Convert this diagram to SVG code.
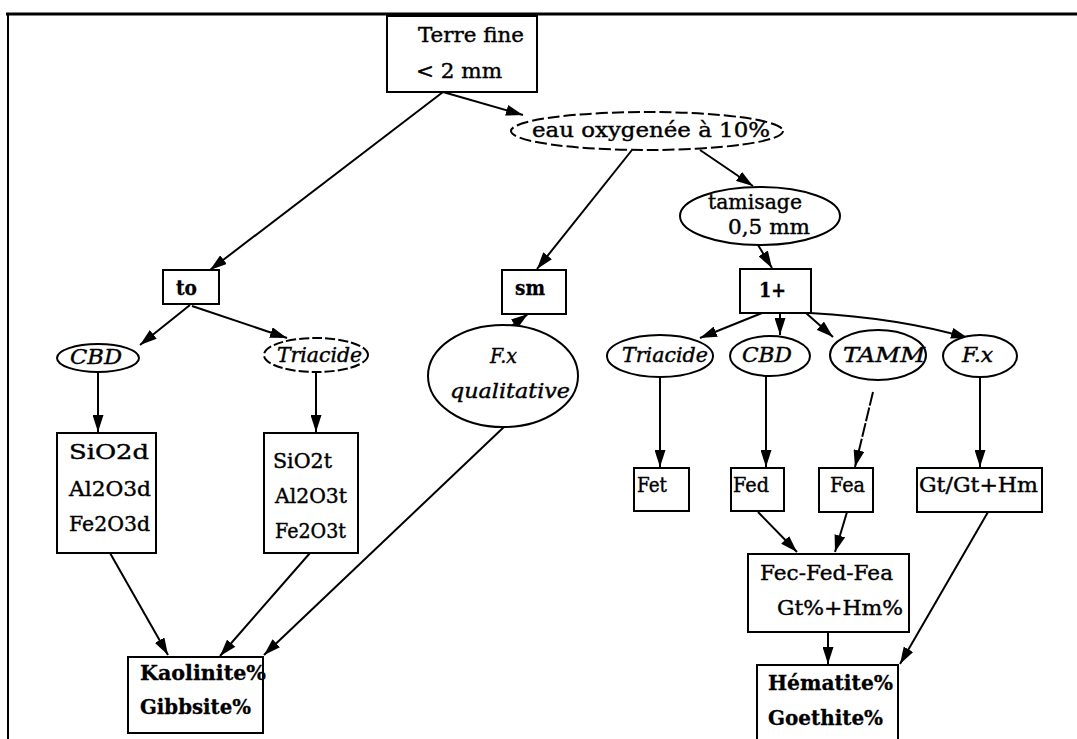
<svg xmlns="http://www.w3.org/2000/svg" width="1077" height="739" viewBox="0 0 1077 739">
<style>
.n{fill:#fff;stroke:#000;stroke-width:2}
.d{stroke-dasharray:10 3}
.t{font-family:"DejaVu Serif","Liberation Serif",serif;font-size:20px;fill:#000;stroke:#000;stroke-width:0.4}
.b{font-weight:bold;stroke-width:0.3}
.i{font-style:italic}
.e{stroke:#000;stroke-width:2;fill:none;marker-end:url(#ah)}
</style>
<defs>
<marker id="ah" markerUnits="userSpaceOnUse" markerWidth="17" markerHeight="11" refX="17" refY="5.5" orient="auto">
<path d="M0,0 L17,5.5 L0,11 z" fill="#000"/>
</marker>
</defs>
<rect width="1077" height="739" fill="#fff"/>
<g id="frame" stroke="#000" fill="none">
<line x1="6" y1="14" x2="1077" y2="14" stroke-width="3"/>
<line x1="8" y1="14" x2="8" y2="739" stroke-width="2"/>
</g>
<g id="connectors">
<path class="e" d="M443,92 L523,115"/>
<path class="e" d="M443,92 L210,270"/>
<path class="e" d="M700,150 L753,186"/>
<path class="e" d="M632,150 L537,269"/>
<path class="e" d="M758,245 L772,268"/>
<path class="e" d="M190,305 L140,345"/>
<path class="e" d="M192,306 L287,338"/>
<path class="e" d="M98,372 L98,432"/>
<path class="e" d="M316,373 L316,432"/>
<path class="e" d="M110,553 L168,655"/>
<path class="e" d="M310,553 L220,656"/>
<path class="e" d="M505,426 L264,655"/>
<path class="e" d="M510,327 L528,314"/>
<ellipse cx="545" cy="312" rx="5" ry="3" fill="#000"/>
<path class="e" d="M762,313 L700,338"/>
<path class="e" d="M780,313 L780,335"/>
<path class="e" d="M806,313 L833,337"/>
<path class="e" d="M810,313 Q900,318 968,338"/>
<path class="e" d="M660,377 L660,467"/>
<path class="e" d="M766,377 L766,467"/>
<path class="e" d="M873,392 L855,467" stroke-dasharray="14 2"/>
<path class="e" d="M980,377 L980,467"/>
<path class="e" d="M758,512 L797,552"/>
<path class="e" d="M847,512 L835,552"/>
<path class="e" d="M828,632 L828,664"/>
<path class="e" d="M988,512 L900,664"/>
</g>
<g id="terre"><rect class="n" x="387" y="16" width="150" height="76"/>
<text class="t" x="418" y="42" textLength="106" lengthAdjust="spacingAndGlyphs">Terre fine</text>
<text class="t" x="416" y="78" textLength="86" lengthAdjust="spacingAndGlyphs">&lt; 2 mm</text></g>
<g id="eau"><ellipse class="n" cx="647" cy="131" rx="136" ry="19" stroke-dasharray="12 4"/>
<text class="t" x="532" y="137" textLength="238" lengthAdjust="spacingAndGlyphs">eau oxygenée à 10%</text></g>
<g id="tamisage"><ellipse class="n" cx="760" cy="216" rx="80" ry="29"/>
<text class="t" x="708" y="209" textLength="94" lengthAdjust="spacingAndGlyphs">tamisage</text>
<text class="t" x="728" y="234" textLength="82" lengthAdjust="spacingAndGlyphs">0,5 mm</text></g>
<g id="to"><rect class="n" x="163" y="270" width="56" height="34"/>
<text class="t b" x="176" y="295" textLength="21" lengthAdjust="spacingAndGlyphs">to</text></g>
<g id="sm"><rect class="n" x="502" y="270" width="64" height="44"/>
<text class="t b" x="515" y="295" textLength="30" lengthAdjust="spacingAndGlyphs">sm</text></g>
<g id="lplus"><rect class="n" x="740" y="269" width="71" height="44"/>
<text class="t b" x="759" y="297" textLength="27" lengthAdjust="spacingAndGlyphs">1+</text></g>
<g id="cbd1"><ellipse class="n" cx="98" cy="358" rx="41" ry="14"/>
<text class="t i" x="70" y="364" textLength="52" lengthAdjust="spacingAndGlyphs">CBD</text></g>
<g id="triacide1"><ellipse class="n d" cx="316" cy="355" rx="52" ry="17"/>
<text class="t i" x="277" y="362" textLength="85" lengthAdjust="spacingAndGlyphs">Triacide</text></g>
<g id="fxq"><ellipse class="n" cx="503" cy="376" rx="75" ry="51"/>
<text class="t i" x="490" y="363" textLength="27" lengthAdjust="spacingAndGlyphs">F.x</text>
<text class="t i" x="450" y="398" textLength="120" lengthAdjust="spacingAndGlyphs">qualitative</text></g>
<g id="sio2d"><rect class="n" x="57" y="433" width="99" height="120"/>
<text class="t" x="69" y="459" textLength="80" lengthAdjust="spacingAndGlyphs">SiO2d</text>
<text class="t" x="69" y="496" textLength="82" lengthAdjust="spacingAndGlyphs">Al2O3d</text>
<text class="t" x="69" y="531" textLength="81" lengthAdjust="spacingAndGlyphs">Fe2O3d</text></g>
<g id="sio2t"><rect class="n" x="264" y="433" width="94" height="120"/>
<text class="t" x="273" y="468" textLength="59" lengthAdjust="spacingAndGlyphs">SiO2t</text>
<text class="t" x="275" y="503" textLength="72" lengthAdjust="spacingAndGlyphs">Al2O3t</text>
<text class="t" x="275" y="538" textLength="71" lengthAdjust="spacingAndGlyphs">Fe2O3t</text></g>
<g id="kaolinite"><rect class="n" x="128" y="657" width="135" height="76"/>
<text class="t b" x="140" y="680" textLength="126" lengthAdjust="spacingAndGlyphs">Kaolinite%</text>
<text class="t b" x="140" y="714" textLength="111" lengthAdjust="spacingAndGlyphs">Gibbsite%</text></g>
<g id="triacide2"><ellipse class="n" cx="660" cy="356" rx="53" ry="21"/>
<text class="t i" x="622" y="362" textLength="86" lengthAdjust="spacingAndGlyphs">Triacide</text></g>
<g id="cbd2"><ellipse class="n" cx="770" cy="356" rx="40" ry="20"/>
<text class="t i" x="742" y="362" textLength="50" lengthAdjust="spacingAndGlyphs">CBD</text></g>
<g id="tamm"><ellipse class="n" cx="878" cy="355" rx="48" ry="25"/>
<text class="t i" x="843" y="362" textLength="82" lengthAdjust="spacingAndGlyphs">TAMM</text></g>
<g id="fx"><ellipse class="n" cx="980" cy="356" rx="37" ry="21"/>
<text class="t i" x="962" y="362" textLength="31" lengthAdjust="spacingAndGlyphs">F.x</text></g>
<g id="fet"><rect class="n" x="634" y="468" width="55" height="43"/>
<text class="t" x="637" y="492" textLength="30" lengthAdjust="spacingAndGlyphs">Fet</text></g>
<g id="fed"><rect class="n" x="731" y="468" width="53" height="43"/>
<text class="t" x="733" y="492" textLength="36" lengthAdjust="spacingAndGlyphs">Fed</text></g>
<g id="fea"><rect class="n" x="819" y="468" width="54" height="44"/>
<text class="t" x="830" y="492" textLength="35" lengthAdjust="spacingAndGlyphs">Fea</text></g>
<g id="gt"><rect class="n" x="917" y="468" width="125" height="44"/>
<text class="t" x="919" y="492" textLength="119" lengthAdjust="spacingAndGlyphs">Gt/Gt+Hm</text></g>
<g id="fec"><rect class="n" x="748" y="554" width="161" height="78"/>
<text class="t" x="760" y="580" textLength="133" lengthAdjust="spacingAndGlyphs">Fec-Fed-Fea</text>
<text class="t" x="777" y="615" textLength="126" lengthAdjust="spacingAndGlyphs">Gt%+Hm%</text></g>
<g id="hematite"><rect class="n" x="757" y="665" width="141" height="80"/>
<text class="t b" x="768" y="690" textLength="125" lengthAdjust="spacingAndGlyphs">Hématite%</text>
<text class="t b" x="768" y="725" textLength="115" lengthAdjust="spacingAndGlyphs">Goethite%</text></g>
</svg>
